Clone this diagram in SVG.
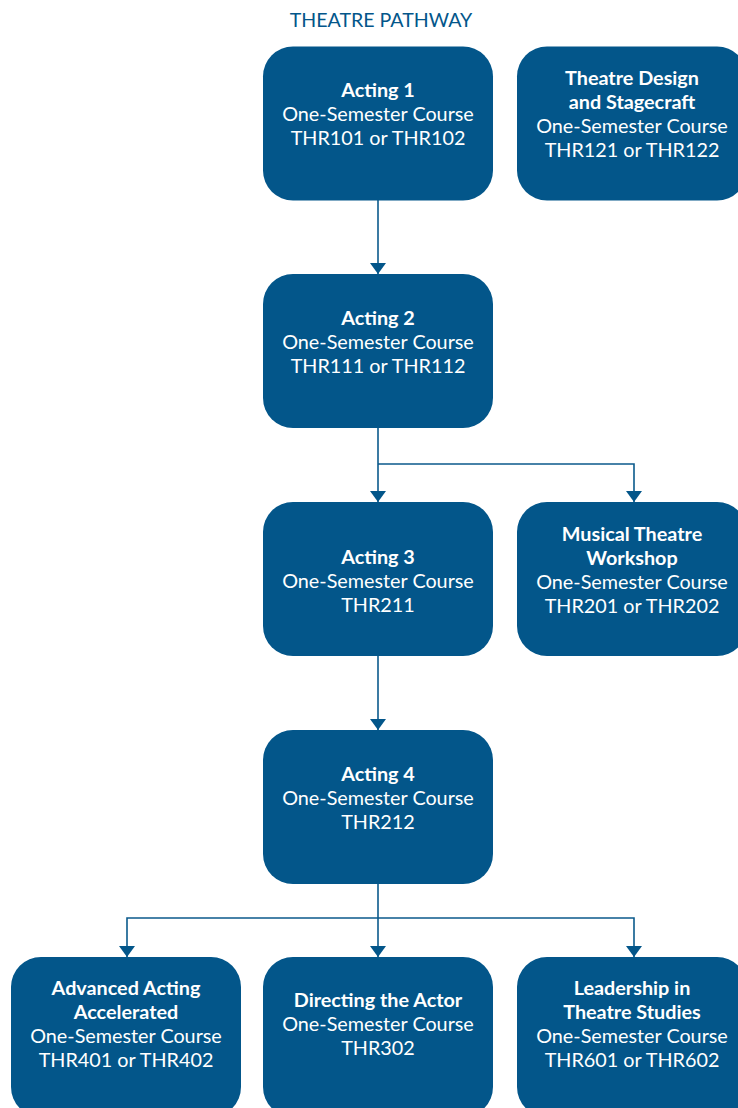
<svg xmlns="http://www.w3.org/2000/svg" width="738" height="1108" viewBox="0 0 738 1108">
<defs>
<style>
.box{fill:#03568A}
.t{font-family:Lato,"Liberation Sans",sans-serif;font-size:19.8px;fill:#ffffff;text-anchor:middle}
.b{font-weight:bold}
.ttl{font-family:Lato,"Liberation Sans",sans-serif;font-size:19.6px;fill:#03568A;text-anchor:middle}
.c{fill:none;stroke:#0B5A8C;stroke-width:1.6}
</style>
<marker id="ah" viewBox="0 0 11 16" refX="11" refY="8" markerWidth="11" markerHeight="16" markerUnits="userSpaceOnUse" orient="auto-start-reverse">
<path d="M0,0 L11,8 L0,16 Z" fill="#03568A"/>
</marker>
</defs>
<rect width="738" height="1108" fill="#ffffff"/>
<text class="ttl" x="381" y="27">THEATRE PATHWAY</text>
<g id="connectors">
<line class="c" x1="378" y1="200" x2="378" y2="274" marker-end="url(#ah)"/>
<line class="c" x1="378" y1="428" x2="378" y2="502" marker-end="url(#ah)"/>
<polyline class="c" points="378,464 634,464 634,502" marker-end="url(#ah)"/>
<line class="c" x1="378" y1="656" x2="378" y2="730" marker-end="url(#ah)"/>
<line class="c" x1="378" y1="884" x2="378" y2="957" marker-end="url(#ah)"/>
<polyline class="c" points="127,957 127,918 634,918 634,957" marker-start="url(#ah)" marker-end="url(#ah)"/>
</g>
<g id="acting1">
<rect class="box" x="263" y="46.5" width="230" height="154" rx="30"/>
<text class="t b" x="378" y="97">Acting 1</text>
<text class="t" x="378" y="121">One-Semester Course</text>
<text class="t" x="378" y="145">THR101 or THR102</text>
</g>
<g id="design">
<rect class="box" x="517" y="46.5" width="230" height="154" rx="30"/>
<text class="t b" x="632" y="85">Theatre Design</text>
<text class="t b" x="632" y="109">and Stagecraft</text>
<text class="t" x="632" y="133">One-Semester Course</text>
<text class="t" x="632" y="157">THR121 or THR122</text>
</g>
<g id="acting2">
<rect class="box" x="263" y="274" width="230" height="154" rx="30"/>
<text class="t b" x="378" y="325">Acting 2</text>
<text class="t" x="378" y="349">One-Semester Course</text>
<text class="t" x="378" y="373">THR111 or THR112</text>
</g>
<g id="acting3">
<rect class="box" x="263" y="502" width="230" height="154" rx="30"/>
<text class="t b" x="378" y="564">Acting 3</text>
<text class="t" x="378" y="588">One-Semester Course</text>
<text class="t" x="378" y="612">THR211</text>
</g>
<g id="musical">
<rect class="box" x="517" y="502" width="230" height="154" rx="30"/>
<text class="t b" x="632" y="541">Musical Theatre</text>
<text class="t b" x="632" y="565">Workshop</text>
<text class="t" x="632" y="589">One-Semester Course</text>
<text class="t" x="632" y="613">THR201 or THR202</text>
</g>
<g id="acting4">
<rect class="box" x="263" y="730" width="230" height="154" rx="30"/>
<text class="t b" x="378" y="781">Acting 4</text>
<text class="t" x="378" y="805">One-Semester Course</text>
<text class="t" x="378" y="829">THR212</text>
</g>
<g id="advanced">
<rect class="box" x="11" y="957" width="230" height="160" rx="30"/>
<text class="t b" x="126" y="995">Advanced Acting</text>
<text class="t b" x="126" y="1019">Accelerated</text>
<text class="t" x="126" y="1043">One-Semester Course</text>
<text class="t" x="126" y="1067">THR401 or THR402</text>
</g>
<g id="directing">
<rect class="box" x="263" y="957" width="230" height="160" rx="30"/>
<text class="t b" x="378" y="1007">Directing the Actor</text>
<text class="t" x="378" y="1031">One-Semester Course</text>
<text class="t" x="378" y="1055">THR302</text>
</g>
<g id="leadership">
<rect class="box" x="517" y="957" width="230" height="160" rx="30"/>
<text class="t b" x="632" y="995">Leadership in</text>
<text class="t b" x="632" y="1019">Theatre Studies</text>
<text class="t" x="632" y="1043">One-Semester Course</text>
<text class="t" x="632" y="1067">THR601 or THR602</text>
</g>
</svg>
